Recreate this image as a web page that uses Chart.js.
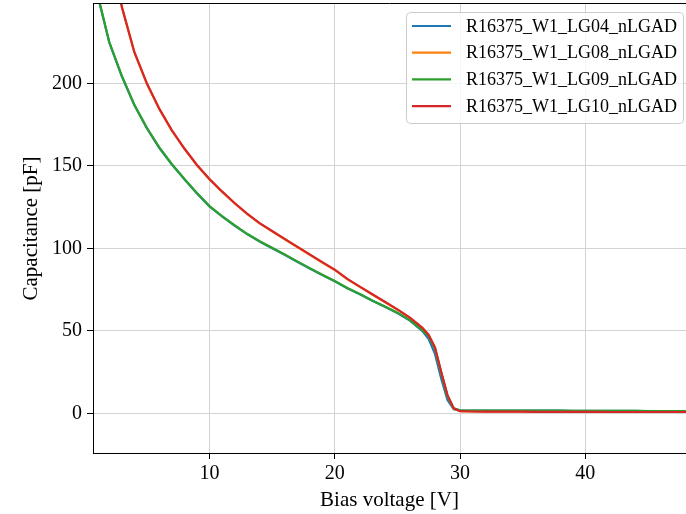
<!DOCTYPE html>
<html>
<head>
<meta charset="utf-8">
<script src="https://cdn.jsdelivr.net/npm/chart.js@4"></script>
<style>
html,body{margin:0;padding:0;background:#fff;}
canvas{display:block;}
</style>
</head>
<body>
<canvas id="c" width="686" height="514"></canvas>
<script>
// Bias voltage [V]
const biasVoltage = [1,2,3,4,5,6,7,8,9,10,11,12,13,14,15,16,17,18,19,20,21,22,23,24,25,26,27,27.5,28,28.5,29,29.5,30,31,32,33,34,35,36,37,38,39,40,41,42,43,44,45,46,47,48,49,50];

// Capacitance [pF]
const capLG04 = [255.5,224.8,204.3,186.8,172.8,160.8,150.8,141.8,133.3,125.4,119.3,113.8,108.6,104.1,100.1,96.1,91.9,87.8,83.8,80.0,75.8,72.1,68.2,64.6,60.8,56.2,49.8,45.0,36.0,21.0,8.0,2.5,1.8,1.7,1.7,1.7,1.6,1.6,1.6,1.6,1.6,1.5,1.5,1.5,1.5,1.5,1.5,1.4,1.4,1.4,1.4,1.4,1.4];
const capLG08 = [334.5,284.5,246.3,218.8,199.8,184.3,171.3,160.3,150.3,141.8,134.3,127.3,120.8,115.1,110.3,105.5,100.8,96.1,91.4,86.9,81.3,76.6,72.0,67.4,62.8,57.8,51.6,47.3,39.6,24.5,10.5,2.8,1.3,1.1,1.0,1.0,1.0,1.0,0.9,0.9,0.9,0.9,0.9,0.9,0.8,0.8,0.8,0.8,0.8,0.8,0.8,0.7,0.7];
const capLG09 = [256,225,204.5,187,173,161,151,142,133.5,125.6,119.5,114,108.8,104.3,100.3,96.3,92.1,88.0,84.0,80.2,76,72.3,68.4,64.8,61,56.5,50.3,46.5,39.5,24.5,10.5,3.0,1.8,1.7,1.7,1.7,1.6,1.6,1.6,1.6,1.6,1.5,1.5,1.5,1.5,1.5,1.5,1.4,1.4,1.4,1.4,1.4,1.4];
const capLG10 = [335,285,246.5,219,200,184.5,171.5,160.5,150.5,142,134.5,127.5,121,115.3,110.5,105.7,101,96.3,91.6,87.1,81.5,76.8,72.2,67.6,63,58,51.8,47.5,40,25,11,3.0,1.3,1.1,1.0,1.0,1.0,1.0,0.9,0.9,0.9,0.9,0.9,0.9,0.8,0.8,0.8,0.8,0.8,0.8,0.8,0.7,0.7];

const seriesLabels = ["R16375_W1_LG04_nLGAD","R16375_W1_LG08_nLGAD","R16375_W1_LG09_nLGAD","R16375_W1_LG10_nLGAD"];
const seriesValues = [capLG04, capLG08, capLG09, capLG10];
const seriesColors = ["#1f77b4","#ff7f0e","#2ca02c","#d62728"];

const xTicks = [10,20,30,40];
const yTicks = [0,50,100,150,200];

const FONT = "'Liberation Serif', 'DejaVu Serif', serif";

const datasets = seriesLabels.map((lab, i) => ({
  label: lab,
  data: biasVoltage.map((v, j) => ({x: v, y: seriesValues[i][j]})),
  borderColor: seriesColors[i],
  backgroundColor: seriesColors[i],
  borderWidth: 2.2,
  pointRadius: 0,
  tension: 0,
  fill: false,
  order: seriesLabels.length - i
}));

const frameAndLegend = {
  id: 'frameAndLegend',
  afterDatasetsDraw(chart) {
    const ctx = chart.ctx, a = chart.chartArea;
    ctx.save();
    ctx.strokeStyle = '#000';
    ctx.lineWidth = 1;
    ctx.beginPath();
    ctx.moveTo(a.left, Math.round(a.top) - 0.5);
    ctx.lineTo(a.right, Math.round(a.top) - 0.5);
    ctx.stroke();

    // legend box
    const bx = 406.5, by = 12.5, bw = 277, bh = 111, r = 4;
    ctx.beginPath();
    ctx.moveTo(bx + r, by);
    ctx.lineTo(bx + bw - r, by);
    ctx.quadraticCurveTo(bx + bw, by, bx + bw, by + r);
    ctx.lineTo(bx + bw, by + bh - r);
    ctx.quadraticCurveTo(bx + bw, by + bh, bx + bw - r, by + bh);
    ctx.lineTo(bx + r, by + bh);
    ctx.quadraticCurveTo(bx, by + bh, bx, by + bh - r);
    ctx.lineTo(bx, by + r);
    ctx.quadraticCurveTo(bx, by, bx + r, by);
    ctx.closePath();
    ctx.fillStyle = 'rgba(255,255,255,0.8)';
    ctx.fill();
    ctx.strokeStyle = '#cccccc';
    ctx.stroke();

    ctx.font = "18px " + FONT;
    ctx.textBaseline = 'middle';
    ctx.textAlign = 'left';
    chart.data.datasets.forEach((ds, i) => {
      const yy = 26 + i * 26.7;
      ctx.strokeStyle = ds.borderColor;
      ctx.lineWidth = 2.2;
      ctx.beginPath();
      ctx.moveTo(412, yy);
      ctx.lineTo(451, yy);
      ctx.stroke();
      ctx.fillStyle = '#000';
      ctx.fillText(ds.label, 466, yy + 1);
    });
    ctx.restore();
  }
};

new Chart(document.getElementById('c'), {
  type: 'line',
  data: { datasets },
  plugins: [frameAndLegend],
  options: {
    responsive: false,
    devicePixelRatio: 1,
    animation: false,
    layout: { padding: { left: 0, right: 0, top: 4, bottom: 0 } },
    plugins: { legend: { display: false }, tooltip: { enabled: false } },
    scales: {
      x: {
        type: 'linear',
        min: 0.7, max: 48.04,
        afterBuildTicks: s => { s.ticks = xTicks.map(v => ({value: v})); },
        afterFit: s => { s.height = 61; s.paddingLeft = 0; s.paddingRight = 0; },
        grid: { color: '#d3d3d3', lineWidth: 1, tickColor: '#000', tickLength: 6 },
        border: { display: true, color: '#000', width: 1 },
        ticks: { color: '#000', font: { family: FONT, size: 20 }, padding: 3, maxRotation: 0 },
        title: { display: true, text: 'Bias voltage [V]', color: '#000', font: { family: FONT, size: 21 }, padding: { top: 0, bottom: 1 } }
      },
      y: {
        type: 'linear',
        min: -24.06, max: 248.1,
        afterBuildTicks: s => { s.ticks = yTicks.map(v => ({value: v})); },
        afterFit: s => { s.width = 93; s.paddingTop = 0; s.paddingBottom = 0; },
        grid: { color: '#d3d3d3', lineWidth: 1, tickColor: '#000', tickLength: 6 },
        border: { display: true, color: '#000', width: 1 },
        ticks: { color: '#000', font: { family: FONT, size: 20 }, padding: 5 },
        title: { display: true, text: 'Capacitance [pF]', color: '#000', font: { family: FONT, size: 21 }, padding: { top: 19, bottom: 0 } }
      }
    }
  }
});
</script>
</body>
</html>
